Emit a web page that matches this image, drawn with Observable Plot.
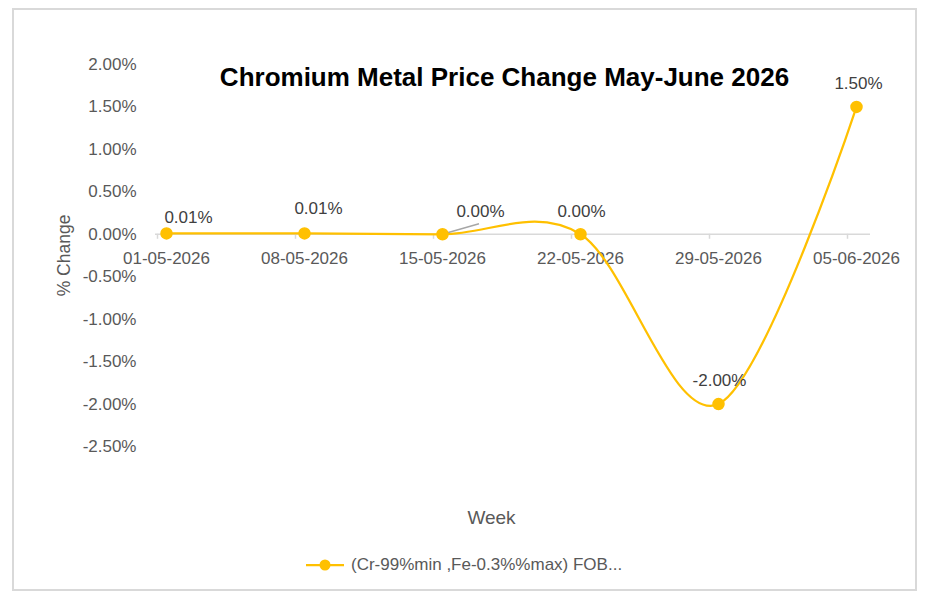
<!DOCTYPE html>
<html>
<head>
<meta charset="utf-8">
<script src="https://cdn.jsdelivr.net/npm/d3@7"></script>
<script src="https://cdn.jsdelivr.net/npm/@observablehq/plot@0.6"></script>
<style>
  html, body { margin: 0; padding: 0; background: #fff; }
  #page { position: relative; width: 930px; height: 603px; overflow: hidden; font-family: "Liberation Sans", Arial, sans-serif; }
  #frame { position: absolute; left: 12px; top: 8px; width: 901px; height: 579px; border: 2px solid #d9d9d9; }
  #chart { position: absolute; left: 0; top: 0; }
  #legend { position: absolute; left: 306px; top: 555px; height: 20px; display: flex; align-items: center; gap: 5px; color: #595959; font-size: 17px; }
</style>
</head>
<body>
<div id="page">
  <div id="frame"></div>
  <div id="chart"></div>
  <div id="legend"></div>
</div>
<script>
// Weekly % change of chromium metal price (Cr-99% min, Fe-0.3% max, FOB)
const weeks = ["01-05-2026", "08-05-2026", "15-05-2026", "22-05-2026", "29-05-2026", "05-06-2026"];
const changes = [0.01, 0.01, 0.00, 0.00, -2.00, 1.50];
const yTicks = [2.0, 1.5, 1.0, 0.5, 0.0, -0.5, -1.0, -1.5, -2.0, -2.5];
const seriesName = "(Cr-99%min ,Fe-0.3%%max) FOB...";
const chartTitle = "Chromium Metal Price Change May-June 2026";

const data = weeks.map((week, i) => ({week, change: changes[i]}));
const pct = v => v.toFixed(2) + "%";

const gold = "#FFC000";
const grey = "#595959";

// label nudges (px) for each data label, in week order
const nudge = [[22, -16], [14, -25], [38, -23], [1, -23], [1, -24], [2, -23]];

// short leader line from the 15-05 point towards its label
const leader = (index, scales) => {
  const x = scales.x(weeks[2]);
  const y = scales.y(changes[2]);
  const line = document.createElementNS("http://www.w3.org/2000/svg", "line");
  line.setAttribute("x1", x + 2);
  line.setAttribute("y1", y);
  line.setAttribute("x2", x + 37);
  line.setAttribute("y2", y - 10);
  line.setAttribute("stroke", "#a6a6a6");
  line.setAttribute("stroke-width", 1.5);
  return line;
};

const chart = Plot.plot({
  width: 930,
  height: 545,
  marginTop: 64,
  marginBottom: 99,
  marginLeft: 164,
  marginRight: 72,
  style: {fontFamily: "'Liberation Sans', Arial, sans-serif", background: "transparent", overflow: "visible"},
  x: {type: "point", domain: weeks, padding: 0, axis: null},
  y: {domain: [-2.5, 2.0], axis: null},
  marks: [
    // y axis tick labels
    Plot.axisY(yTicks, {tickSize: 0, tickPadding: 28, tickFormat: pct, fontSize: 17, fill: grey, label: null}),
    // zero baseline acting as the category axis
    Plot.ruleY([0], {stroke: "#d9d9d9", strokeWidth: 1.5, insetLeft: -9, insetRight: -12}),
    Plot.ruleX(weeks, {x: d => d, y1: 0, y2: 0, insetBottom: -5, dx: -9, stroke: "#d9d9d9", strokeWidth: 1.5}),
    Plot.text(weeks, {x: d => d, y: 0, dy: 24, fontSize: 17, fill: grey}),
    // axis titles
    Plot.text(["% Change"], {frameAnchor: "left", textAnchor: "middle", lineAnchor: "middle", rotate: -90, dx: -100, fontSize: 17.5, fill: grey}),
    Plot.text(["Week"], {frameAnchor: "bottom", lineAnchor: "middle", dx: -20, dy: 71, fontSize: 19, fill: grey}),
    // chart title
    Plot.text([chartTitle], {frameAnchor: "top", lineAnchor: "middle", dx: -7, dy: 13, fontSize: 26, fontWeight: "bold", fill: "#000"}),
    // series
    Plot.line(data, {x: "week", y: "change", curve: "cardinal", stroke: gold, strokeWidth: 2.25}),
    leader,
    Plot.dot(data, {x: "week", y: "change", r: 5.5, fill: gold, stroke: gold}),
    ...data.map((d, i) => Plot.text([d], {x: "week", y: "change", text: v => pct(v.change), dx: nudge[i][0], dy: nudge[i][1], fontSize: 17, fill: "#404040"}))
  ]
});
document.getElementById("chart").appendChild(chart);

// legend swatch: line with marker, followed by the series name
const legend = document.getElementById("legend");
legend.innerHTML = `<svg width="40" height="20"><line x1="0" y1="10" x2="38" y2="10" stroke="${gold}" stroke-width="2.25"/><circle cx="19" cy="10" r="5.5" fill="${gold}"/></svg>`;
const label = document.createElement("span");
label.textContent = seriesName;
legend.appendChild(label);
</script>
</body>
</html>
